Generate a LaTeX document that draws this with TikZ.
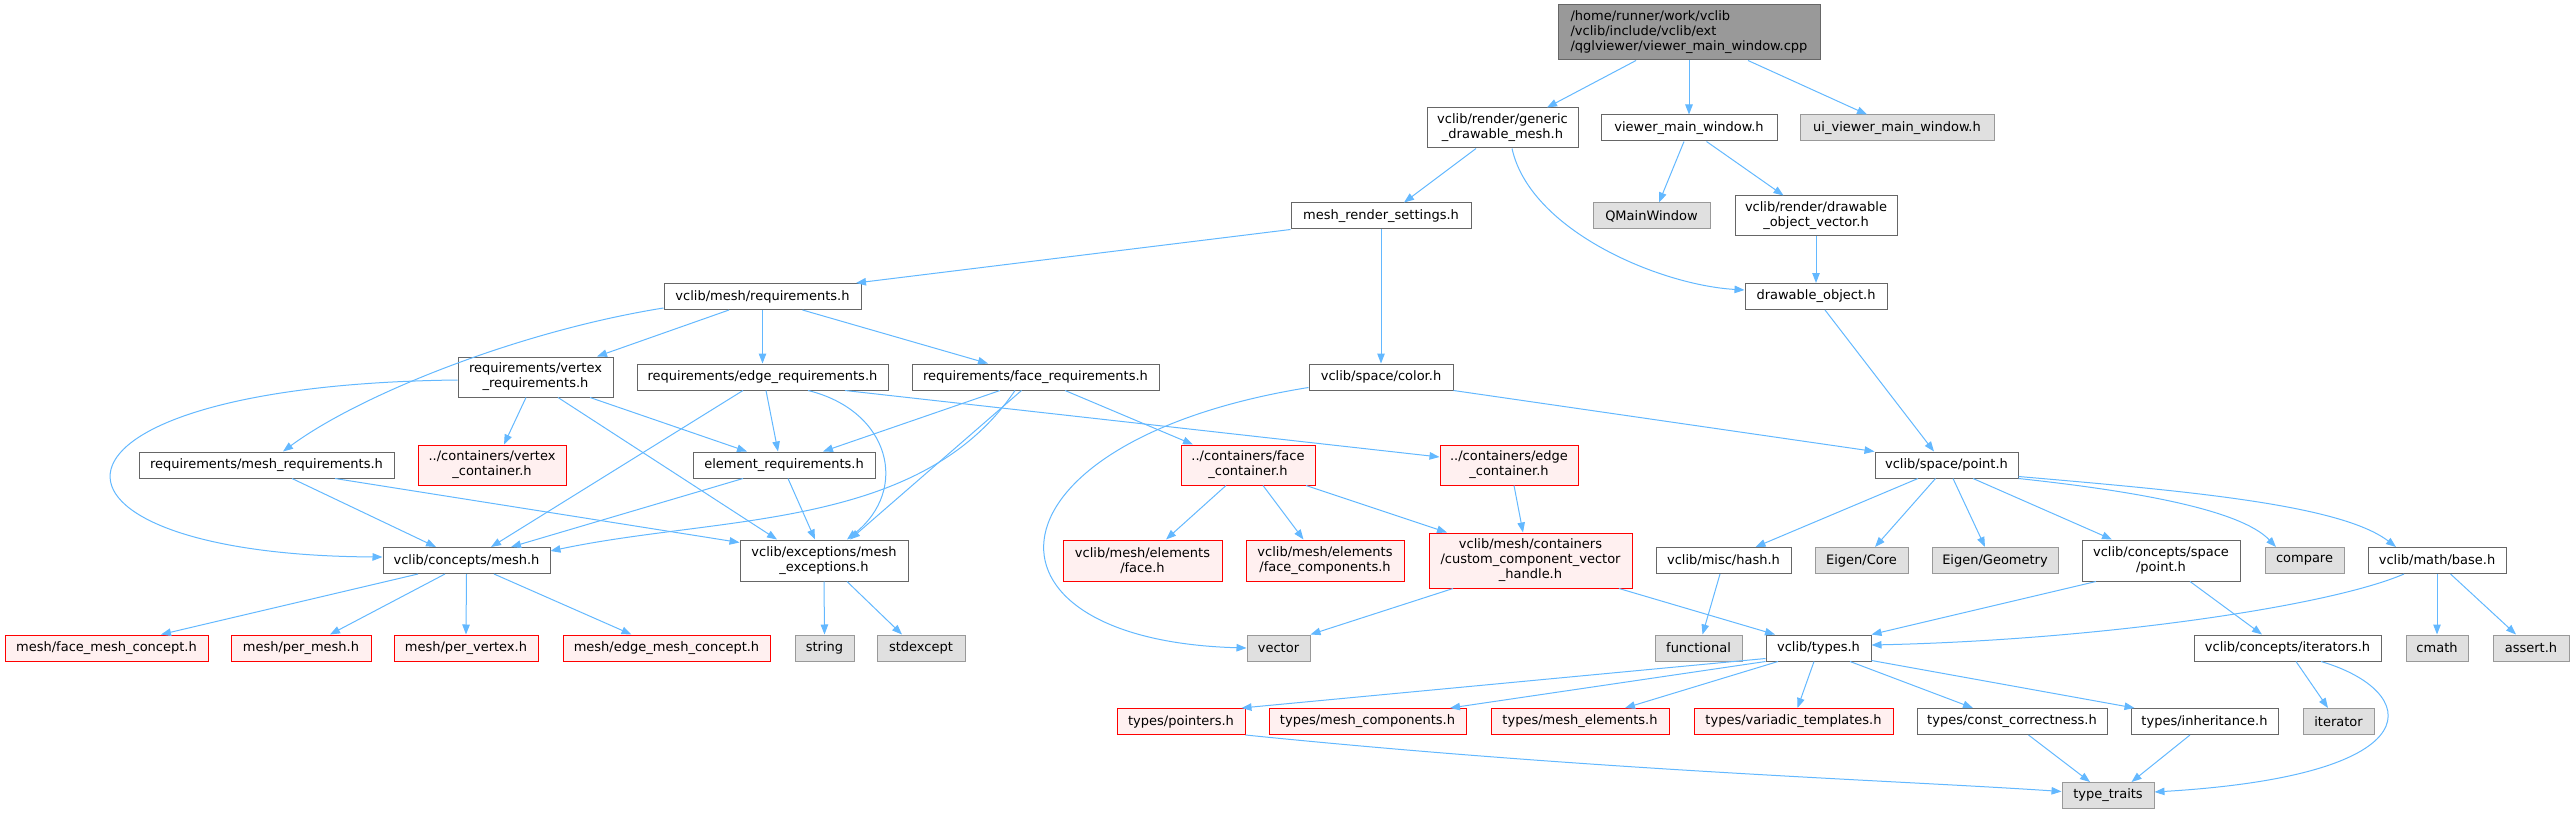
\documentclass[tikz,border=0pt]{standalone}
\usepackage{fontspec}
\setmainfont{DejaVu Sans}
\usepackage{xcolor}
\usepackage{tikz}
\usetikzlibrary{arrows.meta}
\definecolor{edgeblue}{HTML}{63B8FF}
\definecolor{boxgray}{HTML}{666666}
\definecolor{rootfill}{HTML}{999999}
\definecolor{sysfill}{HTML}{E0E0E0}
\definecolor{sysborder}{HTML}{999999}
\definecolor{missfill}{HTML}{FFF0F0}
\definecolor{missborder}{HTML}{FF0000}

\tikzset{
  filebox/.style={draw=boxgray, fill=white, line width=1pt, inner xsep=4pt, inner ysep=2pt,
    align=center, minimum height=26pt, font=\fontsize{13}{15}\selectfont},
  rootbox/.style={filebox, fill=rootfill, align=left},
  sysbox/.style={filebox, draw=sysborder, fill=sysfill},
  missbox/.style={filebox, draw=missborder, fill=missfill},
  dep/.style={draw=edgeblue, line width=1pt, -{Triangle[length=10pt, width=7.5pt]}},
}

\begin{document}
\begin{tikzpicture}[x=1pt, y=-1pt]
    \useasboundingbox (0,0) rectangle (2573,813);

    \node[rootbox, minimum width=262pt, minimum height=55pt] (root) at (1689,32.5)
      {/home/runner/work/vclib\\/vclib/include/vclib/ext\\/qglviewer/viewer\_main\_window.cpp};

    \node[filebox, minimum width=151pt, minimum height=40pt] (gdm) at (1502.5,128) {vclib/render/generic\\\_drawable\_mesh.h};
    \node[filebox, minimum width=176pt] (vmw) at (1689,128) {viewer\_main\_window.h};
    \node[sysbox, minimum width=194pt] (uivmw) at (1897,128) {ui\_viewer\_main\_window.h};

    \node[filebox, minimum width=180pt] (mrs) at (1381,216) {mesh\_render\_settings.h};
    \node[sysbox, minimum width=117pt] (qmw) at (1651.5,216) {QMainWindow};
    \node[filebox, minimum width=162pt, minimum height=40pt] (dov) at (1816,216) {vclib/render/drawable\\\_object\_vector.h};

    \node[filebox, minimum width=197pt] (req) at (762.5,296.5) {vclib/mesh/requirements.h};
    \node[filebox, minimum width=142pt] (dob) at (1816,296.5) {drawable\_object.h};

    \node[filebox, minimum width=155pt, minimum height=40pt] (vreq) at (535.5,377) {requirements/vertex\\\_requirements.h};
    \node[filebox, minimum width=251pt] (ereq) at (762.5,377) {requirements/edge\_requirements.h};
    \node[filebox, minimum width=247pt] (freq) at (1035.5,377) {requirements/face\_requirements.h};
    \node[filebox, minimum width=144pt] (spcolor) at (1381,377) {vclib/space/color.h};

    \node[filebox, minimum width=255pt] (mreq) at (266.5,465) {requirements/mesh\_requirements.h};
    \node[missbox, minimum width=148pt, minimum height=40pt] (vcont) at (492,465) {../containers/vertex\\\_container.h};
    \node[filebox, minimum width=182pt] (elreq) at (784,465) {element\_requirements.h};
    \node[missbox, minimum width=134pt, minimum height=40pt] (fcont) at (1248,465) {../containers/face\\\_container.h};
    \node[missbox, minimum width=138pt, minimum height=40pt] (econt) at (1509,465) {../containers/edge\\\_container.h};
    \node[filebox, minimum width=143pt] (point) at (1946.5,465) {vclib/space/point.h};

    \node[filebox, minimum width=167pt] (cmesh) at (466.5,560.5) {vclib/concepts/mesh.h};
    \node[filebox, minimum width=168pt, minimum height=41pt] (mexc) at (824,560.5) {vclib/exceptions/mesh\\\_exceptions.h};
    \node[missbox, minimum width=159pt, minimum height=41pt] (face) at (1142.5,560.5) {vclib/mesh/elements\\/face.h};
    \node[missbox, minimum width=158pt, minimum height=41pt] (fcomp) at (1325,560.5) {vclib/mesh/elements\\/face\_components.h};
    \node[missbox, minimum width=203pt, minimum height=55pt] (ccvh) at (1530.5,560.5) {vclib/mesh/containers\\/custom\_component\_vector\\\_handle.h};
    \node[filebox, minimum width=135pt] (hash) at (1723.5,560.5) {vclib/misc/hash.h};
    \node[sysbox, minimum width=93pt] (ecore) at (1861.5,560.5) {Eigen/Core};
    \node[sysbox, minimum width=126pt] (egeo) at (1995,560.5) {Eigen/Geometry};
    \node[filebox, minimum width=158pt, minimum height=41pt] (csp) at (2161,560.5) {vclib/concepts/space\\/point.h};
    \node[sysbox, minimum width=79pt] (cmp) at (2304.5,560.5) {compare};
    \node[filebox, minimum width=138pt] (base) at (2437,560.5) {vclib/math/base.h};

    \node[missbox, minimum width=203pt] (fmc) at (106.5,648) {mesh/face\_mesh\_concept.h};
    \node[missbox, minimum width=140pt] (pmesh) at (301,648) {mesh/per\_mesh.h};
    \node[missbox, minimum width=144pt] (pvert) at (466,648) {mesh/per\_vertex.h};
    \node[missbox, minimum width=207pt] (emc) at (666.5,648) {mesh/edge\_mesh\_concept.h};
    \node[sysbox, minimum width=59pt] (str) at (824.5,648) {string};
    \node[sysbox, minimum width=88pt] (stdexc) at (921,648) {stdexcept};
    \node[sysbox, minimum width=63pt] (vec) at (1278.5,648) {vector};
    \node[sysbox, minimum width=87pt] (func) at (1698.5,648) {functional};
    \node[filebox, minimum width=105pt] (types) at (1818.5,648) {vclib/types.h};
    \node[filebox, minimum width=187pt] (iters) at (2287.5,648) {vclib/concepts/iterators.h};
    \node[sysbox, minimum width=62pt] (cmath) at (2437,648) {cmath};
    \node[sysbox, minimum width=76pt] (assrt) at (2531,648) {assert.h};

    \node[missbox, minimum width=128pt] (ptr) at (1181,721.5) {types/pointers.h};
    \node[missbox, minimum width=197pt] (mcomp) at (1367.5,721.5) {types/mesh\_components.h};
    \node[missbox, minimum width=178pt] (melem) at (1580,721.5) {types/mesh\_elements.h};
    \node[missbox, minimum width=199pt] (vtmpl) at (1793.5,721.5) {types/variadic\_templates.h};
    \node[filebox, minimum width=190pt] (cconst) at (2012,721.5) {types/const\_correctness.h};
    \node[filebox, minimum width=147pt] (inh) at (2204.5,721.5) {types/inheritance.h};
    \node[sysbox, minimum width=71pt] (iter) at (2338.5,721.5) {iterator};

    \node[sysbox, minimum width=92pt] (tt) at (2108,795.5) {type\_traits};

    % include edges
    \draw[dep] ([xshift=-53pt]root.south) -- ([xshift=44.5pt]gdm.north);
    \draw[dep] (root.south) -- (vmw.north);
    \draw[dep] ([xshift=59pt]root.south) -- ([xshift=-30pt]uivmw.north);
    \draw[dep] ([xshift=-26.5pt]gdm.south) -- ([xshift=23pt]mrs.north);
    \draw[dep] ([xshift=9.5pt]gdm.south) .. controls +(18,82) and +(-85,-5) .. ([yshift=6.5pt]dob.west);
    \draw[dep] ([xshift=-5pt]vmw.south) -- ([xshift=7.5pt]qmw.north);
    \draw[dep] ([xshift=17.5pt]vmw.south) -- ([xshift=-32.5pt]dov.north);
    \draw[dep] (dov.south) -- (dob.north);
    \draw[dep] (mrs.south west) -- ([xshift=-5.5pt]req.north east);
    \draw[dep] (mrs.south) -- (spcolor.north);
    \draw[dep] ([xshift=9pt]dob.south) -- ([xshift=-12.5pt]point.north);

    \draw[dep] ([xshift=-33.5pt]req.south) -- ([xshift=61.5pt]vreq.north);
    \draw[dep] (req.south) -- (ereq.north);
    \draw[dep] ([xshift=40pt]req.south) -- ([xshift=-47.5pt]freq.north);
    \draw[dep] ([yshift=2pt]req.south west) .. controls +(-144,23) and +(77,-57) .. ([xshift=16.5pt]mreq.north);

    \draw[dep] ([yshift=-3pt]vreq.west) .. controls +(-448,5) and +(-373,-2) .. ([yshift=3.5pt]cmesh.west);
    \draw[dep] ([xshift=-9.5pt]vreq.south) -- ([xshift=12pt]vcont.north);
    \draw[dep] ([xshift=22.5pt]vreq.south) -- ([xshift=-47pt]mexc.north);
    \draw[dep] ([xshift=54.5pt]vreq.south) -- ([xshift=-37pt]elreq.north);

    \draw[dep] ([xshift=-19.5pt]ereq.south) -- ([xshift=24.5pt]cmesh.north);
    \draw[dep] ([xshift=3.5pt]ereq.south) -- ([xshift=-6pt]elreq.north);
    \draw[dep] ([xshift=45.5pt]ereq.south) .. controls +(82,20) and +(63,-50) .. ([xshift=23pt]mexc.north);
    \draw[dep] ([xshift=82.5pt]ereq.south) -- ([yshift=8pt]econt.west);

    \draw[dep] ([xshift=-35.5pt]freq.south) -- ([xshift=39pt]elreq.north);
    \draw[dep] ([xshift=-20.5pt]freq.south) .. controls +(-95,140) and +(170,-36) .. ([yshift=9.5pt]cmesh.east);
    \draw[dep] ([xshift=-14pt]freq.south) -- ([xshift=26pt]mexc.north);
    \draw[dep] ([xshift=29.5pt]freq.south) -- ([xshift=-55pt]fcont.north);

    \draw[dep] ([yshift=3pt]spcolor.south west) .. controls +(-330,53) and +(-287,-8) .. (vec.west);
    \draw[dep] (spcolor.south east) -- (point.north west);

    \draw[dep] ([xshift=-41pt]elreq.south) -- ([xshift=44.5pt]cmesh.north);
    \draw[dep] ([xshift=4pt]elreq.south) -- ([xshift=-9pt]mexc.north);
    \draw[dep] ([xshift=25.5pt]mreq.south) -- ([xshift=-30.5pt]cmesh.north);
    \draw[dep] ([xshift=68.5pt]mreq.south) -- ([yshift=-3pt]mexc.north west);

    \draw[dep] ([xshift=-22pt]fcont.south) -- ([xshift=23.5pt]face.north);
    \draw[dep] ([xshift=15pt]fcont.south) -- ([xshift=-21.5pt]fcomp.north);
    \draw[dep] ([xshift=58pt]fcont.south) -- ([xshift=-83.5pt]ccvh.north);
    \draw[dep] ([xshift=5pt]econt.south) -- ([xshift=-7.5pt]ccvh.north);
    \draw[dep] ([xshift=-77.5pt]ccvh.south) -- (vec.north east);
    \draw[dep] ([xshift=88.5pt]ccvh.south) -- ([xshift=-43.5pt]types.north);

    \draw[dep] ([xshift=-48.5pt]cmesh.south) -- ([xshift=54.5pt]fmc.north);
    \draw[dep] ([xshift=-21.5pt]cmesh.south) -- ([xshift=29pt]pmesh.north);
    \draw[dep] (cmesh.south) -- (pvert.north);
    \draw[dep] ([xshift=27.5pt]cmesh.south) -- ([xshift=-35pt]emc.north);
    \draw[dep] (mexc.south) -- (str.north);
    \draw[dep] ([xshift=23pt]mexc.south) -- ([xshift=-19pt]stdexc.north);

    \draw[dep] ([xshift=-28.5pt]point.south) -- ([xshift=32pt]hash.north);
    \draw[dep] ([xshift=-11pt]point.south) -- ([xshift=13.5pt]ecore.north);
    \draw[dep] ([xshift=6.5pt]point.south) -- ([xshift=-10pt]egeo.north);
    \draw[dep] ([xshift=26.5pt]point.south) -- ([xshift=-49pt]csp.north);
    \draw[dep] (point.south east) .. controls +(112,12) and +(-36,-38) .. ([xshift=-28.5pt]cmp.north);
    \draw[dep] ([yshift=2pt]point.south east) .. controls +(162,14) and +(-56,-43) .. ([xshift=-41pt]base.north);

    \draw[dep] ([xshift=-3.5pt]hash.south) -- ([xshift=4pt]func.north);
    \draw[dep] ([xshift=14.5pt]csp.south west) -- (types.north east);
    \draw[dep] ([xshift=29pt]csp.south) -- ([xshift=-25.5pt]iters.north);
    \draw[dep] ([xshift=-33pt]base.south) .. controls +(-74,32) and +(229,-5) .. ([yshift=3pt]types.east);
    \draw[dep] (base.south) -- (cmath.north);
    \draw[dep] ([xshift=13.5pt]base.south) -- ([xshift=-15pt]assrt.north);

    \draw[dep] ([yshift=3pt]types.south west) -- ([xshift=-4pt]ptr.north east);
    \draw[dep] (types.south west) -- ([xshift=82.5pt]mcomp.north);
    \draw[dep] ([xshift=-40.5pt]types.south) -- ([xshift=45pt]melem.north);
    \draw[dep] ([xshift=-4.5pt]types.south) -- ([xshift=4pt]vtmpl.north);
    \draw[dep] ([xshift=31.5pt]types.south) -- ([xshift=-39pt]cconst.north);
    \draw[dep] ([yshift=1pt]types.south east) -- ([xshift=-70pt]inh.north);

    \draw[dep] ([xshift=8.5pt]iters.south) -- ([xshift=-10.5pt]iter.north);
    \draw[dep] ([xshift=33.5pt]iters.south) .. controls +(99,29) and +(286,-17) .. ([yshift=3.5pt]tt.east);
    \draw[dep] (ptr.south east) .. controls +(355,36) and +(-162,-11) .. ([yshift=4pt]tt.west);
    \draw[dep] ([xshift=16.5pt]cconst.south) -- ([xshift=-18pt]tt.north);
    \draw[dep] ([xshift=-14.5pt]inh.south) -- ([xshift=23.5pt]tt.north);
  \end{tikzpicture}
\end{document}
